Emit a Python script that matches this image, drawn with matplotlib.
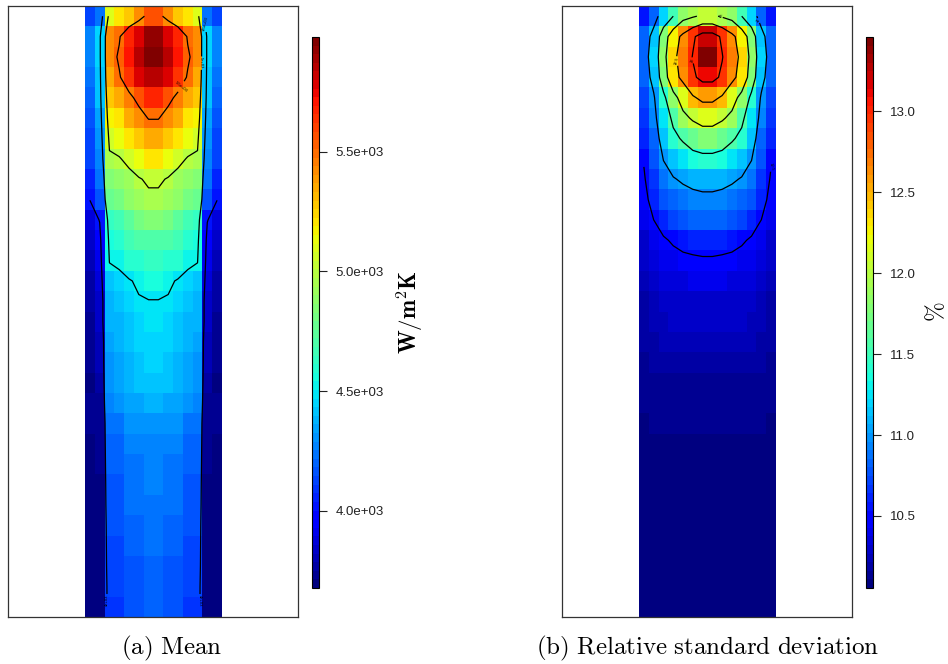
import numpy as np
import matplotlib
matplotlib.use('Agg')
import matplotlib.pyplot as plt
from matplotlib import colors, cm

plt.rcParams['mathtext.fontset'] = 'cm'
plt.rcParams['font.family'] = ['Liberation Sans', 'DejaVu Sans']

# ---- data: mean heat transfer coefficient (W/m^2K), 30 rows (top->bottom) x 14 columns
mean_rows = [
    [4140, 4250, 5105, 5197, 5289, 5420, 5560, 5560, 5420, 5289, 5197, 5105, 4250, 4140],
    [4254, 4440, 5405, 5480, 5690, 5780, 5930, 5930, 5780, 5690, 5480, 5405, 4440, 4254],
    [4254, 4440, 5405, 5530, 5700, 5840, 5978, 5978, 5840, 5700, 5530, 5405, 4440, 4254],
    [4240, 4420, 5360, 5480, 5630, 5770, 5870, 5870, 5770, 5630, 5480, 5360, 4420, 4240],
    [4210, 4400, 5260, 5360, 5450, 5560, 5690, 5690, 5560, 5450, 5360, 5260, 4400, 4210],
    [4180, 4360, 5170, 5220, 5350, 5420, 5510, 5510, 5420, 5350, 5220, 5170, 4360, 4180],
    [4140, 4320, 5060, 5130, 5210, 5290, 5350, 5350, 5290, 5210, 5130, 5060, 4320, 4140],
    [4110, 4280, 4960, 4985, 5060, 5150, 5220, 5220, 5150, 5060, 4985, 4960, 4280, 4110],
    [4040, 4230, 4830, 4880, 4930, 4985, 5030, 5030, 4985, 4930, 4880, 4830, 4230, 4040],
    [4005, 4170, 4760, 4820, 4880, 4930, 4960, 4960, 4930, 4880, 4820, 4760, 4170, 4005],
    [3880, 4010, 4620, 4680, 4740, 4800, 4830, 4830, 4800, 4740, 4680, 4620, 4010, 3880],
    [3823, 3930, 4560, 4600, 4660, 4700, 4720, 4720, 4700, 4660, 4600, 4560, 3930, 3823],
    [3786, 3895, 4510, 4540, 4590, 4610, 4625, 4625, 4610, 4590, 4540, 4510, 3895, 3786],
    [3750, 3860, 4420, 4450, 4490, 4520, 4560, 4560, 4520, 4490, 4450, 4420, 3860, 3750],
    [3750, 3823, 4364, 4400, 4453, 4490, 4495, 4495, 4490, 4453, 4400, 4364, 3823, 3750],
    [3732, 3823, 4364, 4382, 4417, 4453, 4472, 4472, 4453, 4417, 4382, 4364, 3823, 3732],
    [3714, 3786, 4327, 4364, 4400, 4435, 4453, 4453, 4435, 4400, 4364, 4327, 3786, 3714],
    [3714, 3786, 4309, 4345, 4382, 4417, 4435, 4435, 4417, 4382, 4345, 4309, 3786, 3714],
    [3696, 3768, 4292, 4327, 4364, 4400, 4417, 4417, 4400, 4364, 4327, 4292, 3768, 3696],
    [3720, 3740, 4270, 4290, 4330, 4350, 4380, 4380, 4350, 4330, 4290, 4270, 3740, 3720],
    [3720, 3730, 4219, 4219, 4292, 4292, 4309, 4309, 4292, 4292, 4219, 4219, 3730, 3720],
    [3710, 3720, 4210, 4210, 4260, 4260, 4285, 4285, 4260, 4260, 4210, 4210, 3720, 3710],
    [3710, 3715, 4195, 4195, 4245, 4245, 4270, 4270, 4245, 4245, 4195, 4195, 3715, 3710],
    [3705, 3710, 4180, 4180, 4230, 4230, 4255, 4255, 4230, 4230, 4180, 4180, 3710, 3705],
    [3700, 3705, 4170, 4170, 4220, 4220, 4245, 4245, 4220, 4220, 4170, 4170, 3705, 3700],
    [3695, 3700, 4150, 4150, 4200, 4200, 4230, 4230, 4200, 4200, 4150, 4150, 3700, 3695],
    [3690, 3695, 4140, 4140, 4190, 4190, 4220, 4220, 4190, 4190, 4140, 4140, 3695, 3690],
    [3685, 3690, 4130, 4130, 4180, 4180, 4210, 4210, 4180, 4180, 4130, 4130, 3690, 3685],
    [3680, 3685, 4110, 4110, 4175, 4175, 4200, 4200, 4175, 4175, 4110, 4110, 3685, 3680],
    [3678, 3682, 4105, 4105, 4170, 4170, 4195, 4195, 4170, 4170, 4105, 4105, 3682, 3678],
]

# ---- data: relative standard deviation (%), 30 rows x 14 columns
rsd_rows = [
    [10.56, 10.85, 11.18, 11.50, 11.84, 11.95, 12.07, 12.07, 11.95, 11.84, 11.50, 11.18, 10.85, 10.56],
    [10.80, 11.12, 11.76, 12.28, 12.61, 12.93, 13.20, 13.20, 12.93, 12.61, 12.28, 11.76, 11.12, 10.80],
    [10.85, 11.18, 11.86, 12.39, 12.71, 13.02, 13.46, 13.46, 13.02, 12.71, 12.39, 11.86, 11.18, 10.85],
    [10.80, 11.12, 11.76, 12.34, 12.61, 12.93, 13.12, 13.12, 12.93, 12.61, 12.34, 11.76, 11.12, 10.80],
    [10.70, 10.96, 11.40, 11.86, 12.18, 12.45, 12.60, 12.60, 12.45, 12.18, 11.86, 11.40, 10.96, 10.70],
    [10.69, 10.91, 11.23, 11.59, 11.90, 12.05, 12.15, 12.15, 12.05, 11.90, 11.59, 11.23, 10.91, 10.69],
    [10.64, 10.85, 11.12, 11.40, 11.55, 11.70, 11.78, 11.78, 11.70, 11.55, 11.40, 11.12, 10.85, 10.64],
    [10.52, 10.75, 11.01, 11.16, 11.27, 11.36, 11.40, 11.40, 11.36, 11.27, 11.16, 11.01, 10.75, 10.52],
    [10.47, 10.69, 10.90, 10.98, 11.04, 11.08, 11.10, 11.10, 11.08, 11.04, 10.98, 10.90, 10.69, 10.47],
    [10.43, 10.59, 10.76, 10.83, 10.88, 10.92, 10.94, 10.94, 10.92, 10.88, 10.83, 10.76, 10.59, 10.43],
    [10.38, 10.50, 10.62, 10.70, 10.76, 10.80, 10.82, 10.82, 10.80, 10.76, 10.70, 10.62, 10.50, 10.38],
    [10.32, 10.40, 10.47, 10.53, 10.57, 10.60, 10.62, 10.62, 10.60, 10.57, 10.53, 10.47, 10.40, 10.32],
    [10.27, 10.33, 10.38, 10.42, 10.45, 10.46, 10.47, 10.47, 10.46, 10.45, 10.42, 10.38, 10.33, 10.27],
    [10.24, 10.28, 10.33, 10.36, 10.37, 10.38, 10.38, 10.38, 10.38, 10.37, 10.36, 10.33, 10.28, 10.24],
    [10.21, 10.25, 10.29, 10.31, 10.32, 10.32, 10.32, 10.32, 10.32, 10.32, 10.31, 10.29, 10.25, 10.21],
    [10.20, 10.22, 10.25, 10.27, 10.28, 10.28, 10.28, 10.28, 10.28, 10.28, 10.27, 10.25, 10.22, 10.20],
    [10.18, 10.20, 10.22, 10.24, 10.24, 10.24, 10.24, 10.24, 10.24, 10.24, 10.24, 10.22, 10.20, 10.18],
    [10.16, 10.17, 10.18, 10.19, 10.19, 10.19, 10.19, 10.19, 10.19, 10.19, 10.19, 10.18, 10.17, 10.16],
    [10.14, 10.15, 10.16, 10.16, 10.16, 10.16, 10.16, 10.16, 10.16, 10.16, 10.16, 10.16, 10.15, 10.14],
    [10.12, 10.13, 10.14, 10.14, 10.14, 10.14, 10.14, 10.14, 10.14, 10.14, 10.14, 10.14, 10.13, 10.12],
    [10.10, 10.11, 10.11, 10.11, 10.11, 10.11, 10.11, 10.11, 10.11, 10.11, 10.11, 10.11, 10.11, 10.10],
    [10.09, 10.09, 10.09, 10.09, 10.09, 10.09, 10.09, 10.09, 10.09, 10.09, 10.09, 10.09, 10.09, 10.09],
    [10.08, 10.08, 10.08, 10.08, 10.08, 10.08, 10.08, 10.08, 10.08, 10.08, 10.08, 10.08, 10.08, 10.08],
    [10.08, 10.08, 10.08, 10.08, 10.08, 10.08, 10.08, 10.08, 10.08, 10.08, 10.08, 10.08, 10.08, 10.08],
    [10.07, 10.07, 10.07, 10.07, 10.07, 10.07, 10.07, 10.07, 10.07, 10.07, 10.07, 10.07, 10.07, 10.07],
    [10.07, 10.07, 10.07, 10.07, 10.07, 10.07, 10.07, 10.07, 10.07, 10.07, 10.07, 10.07, 10.07, 10.07],
    [10.07, 10.07, 10.07, 10.07, 10.07, 10.07, 10.07, 10.07, 10.07, 10.07, 10.07, 10.07, 10.07, 10.07],
    [10.06, 10.06, 10.06, 10.06, 10.06, 10.06, 10.06, 10.06, 10.06, 10.06, 10.06, 10.06, 10.06, 10.06],
    [10.06, 10.06, 10.06, 10.06, 10.06, 10.06, 10.06, 10.06, 10.06, 10.06, 10.06, 10.06, 10.06, 10.06],
    [10.055, 10.055, 10.055, 10.055, 10.055, 10.055, 10.055, 10.055, 10.055, 10.055, 10.055, 10.055, 10.055, 10.055],
]

mean_levels = [4000, 4500, 5000, 5500]
rsd_levels = [10.5, 11.0, 11.5, 12.0, 12.5, 13.0]
mean_ticks = [4000, 4500, 5000, 5500]
mean_ticklabels = ['4.0e+03', '4.5e+03', '5.0e+03', '5.5e+03']
rsd_ticks = [10.5, 11.0, 11.5, 12.0, 12.5, 13.0]
rsd_ticklabels = ['10.5', '11.0', '11.5', '12.0', '12.5', '13.0']
captions = [r'$\mathrm{(a)\ Mean}$', r'$\mathrm{(b)\ Relative\ standard\ deviation}$']
cbar_labels = [r'$\mathbf{W/m^2K}$', r'$\%$']

# ---- figure
W, H = 948, 664
fig = plt.figure(figsize=(W / 100, H / 100), dpi=100)
cmap = plt.get_cmap('jet', 64)


def fx(px):
    return px / W


def fy(py):
    return 1 - py / H


def panel(ax_left_px, cbar_left_px, Z, levels, ticks, ticklabels, cb_label,
          cb_label_x, cb_label_size, fmt, label_pos):
    Z = np.asarray(Z, dtype=float)
    nr, nc = Z.shape
    ax = fig.add_axes([fx(ax_left_px), fy(617), 290 / W, 611 / H])
    norm = colors.Normalize(vmin=Z.min(), vmax=Z.max())
    ax.pcolormesh(np.arange(nc + 1), np.arange(nr + 1), Z, cmap=cmap, norm=norm,
                  shading='flat')
    xc = np.arange(nc) + 0.5
    yc = np.arange(nr) + 0.5
    cs = ax.contour(xc, yc, Z, levels=levels, colors='k', linewidths=0.9)
    try:
        ax.clabel(cs, fmt=fmt, fontsize=3, inline=True, inline_spacing=1,
                  manual=label_pos)
    except Exception:
        pass
    ax.set_xlim(-7.87, nc + 7.77)
    ax.set_ylim(nr, 0)
    ax.set_xticks([])
    ax.set_yticks([])
    for s in ax.spines.values():
        s.set_linewidth(0.9)
        s.set_color('#333333')

    cax = fig.add_axes([fx(cbar_left_px), fy(588), 7 / W, 551 / H])
    sm = cm.ScalarMappable(norm=norm, cmap=cmap)
    cb = fig.colorbar(sm, cax=cax, ticks=ticks)
    cb.ax.set_yticklabels(ticklabels)
    cb.ax.tick_params(length=6, width=0.8, pad=6, labelsize=9.5, colors='#222222')
    cb.outline.set_linewidth(0.8)
    fig.text(fx(cb_label_x), fy(312), cb_label, rotation=90, ha='center', va='center',
             fontsize=cb_label_size)
    return ax


panel(8, 312, mean_rows, mean_levels, mean_ticks, mean_ticklabels, cbar_labels[0], 410,
      16.5, lambda v: f'{v:.2g}',
      [(9.7, 3.8), (11.8, 2.8), (12.2, 0.9), (2.25, 29.2), (11.65, 29.2)])
panel(562, 866, rsd_rows, rsd_levels, rsd_ticks, rsd_ticklabels, cbar_labels[1], 936,
      17, lambda v: f'{v:g}',
      [(8.4, 0.6), (3.7, 2.75), (5.4, 2.7), (12.0, 0.9), (13.8, 7.7)])

fig.text(fx(172), fy(648), captions[0], ha='center', va='center', fontsize=18)
fig.text(fx(708), fy(648), captions[1], ha='center', va='center', fontsize=18)

fig.savefig('out.png', dpi=100)
